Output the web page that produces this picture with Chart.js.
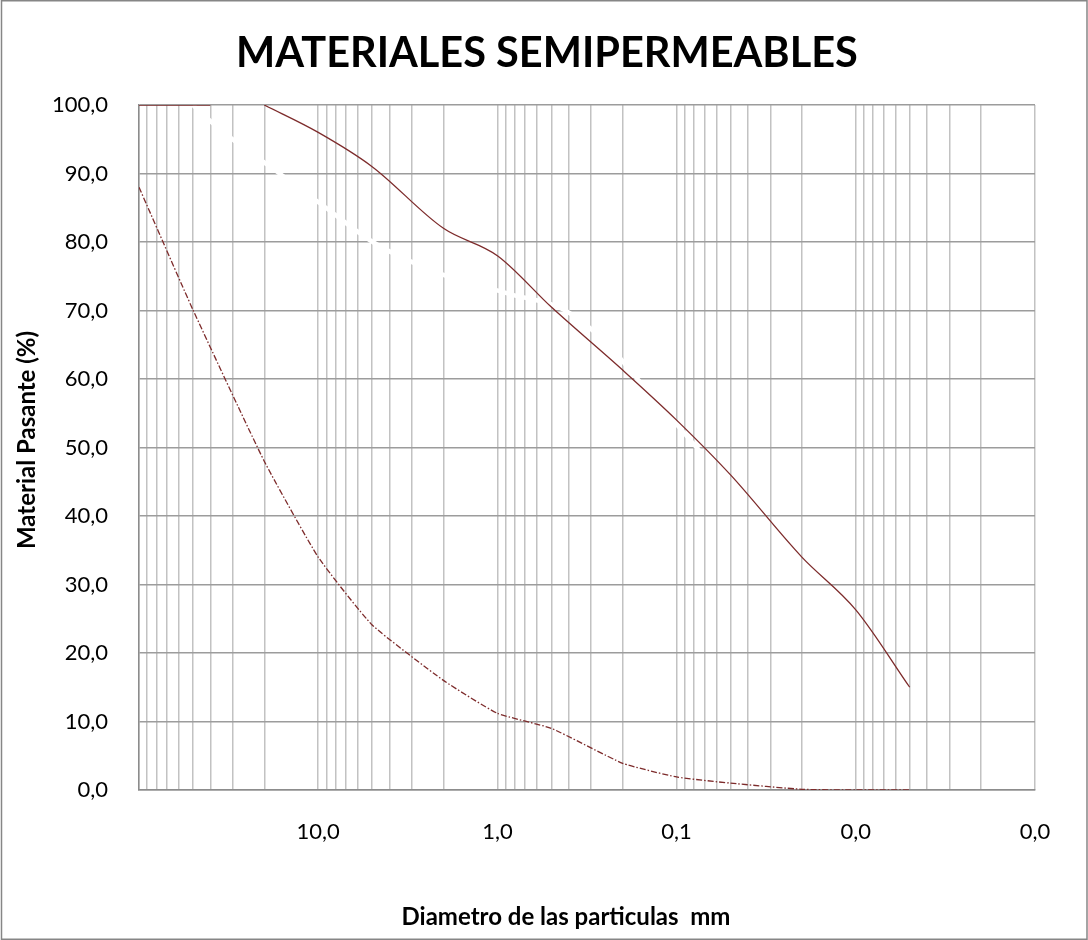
<!DOCTYPE html>
<html>
<head>
<meta charset="utf-8">
<script src="https://cdn.jsdelivr.net/npm/chart.js@4.4.1/dist/chart.umd.min.js"></script>
<style>
  html, body { margin: 0; padding: 0; background: #ffffff; }
  canvas { display: block; }
</style>
</head>
<body>
<canvas id="c" width="1088" height="940"></canvas>
<script>
// ---- data (particle size in mm, % passing) ----
const upperSizes   = [100, 40, 25, 20, 10, 5, 2, 1, 0.5, 0.2, 0.1, 0.05, 0.02, 0.01, 0.005];
const upperPassing = [100, 100, null, 100, 96, 91, 82, 78, 70.5, 61.3, 54, 46, 34, 26.3, 15];

const lowerSizes   = [100, 50, 20, 10, 5, 2, 1, 0.5, 0.2, 0.1, 0.05, 0.02, 0.01, 0.005];
const lowerPassing = [88, 70.1, 48, 34, 24.1, 16, 11.2, 9, 3.9, 1.9, 1.0, 0.1, 0, 0];

const sampleSizes   = [50, 37.5, 25, 19, 12.5, 9.5, 4.75, 2, 0.85, 0.425, 0.25, 0.15, 0.075];
const samplePassing = [100, 97, 93.4, 91.2, 87.7, 85.4, 79.7, 75.2, 72.4, 70.1, 65.4, 58.7, 49.6];

const xTickValues = [10, 1, 0.1, 0.01, 0.001];
const xTickLabels = ['10,0', '1,0', '0,1', '0,0', '0,0'];
const yTickValues = [0, 10, 20, 30, 40, 50, 60, 70, 80, 90, 100];
const yTickLabels = ['0,0', '10,0', '20,0', '30,0', '40,0', '50,0', '60,0', '70,0', '80,0', '90,0', '100,0'];

const chartTitle = 'MATERIALES SEMIPERMEABLES';
const xTitle = 'Diametro de las particulas  mm';
const yTitle = 'Material Pasante (%)';

// log grid lines: 1..9 x 10^k between 0.001 and 100
const xGridValues = [];
for (let e = -3; e <= 1; e++) {
  for (let m = 1; m <= 9; m++) xGridValues.push(+(m * Math.pow(10, e)).toPrecision(6));
}
xGridValues.push(100);

function pairs(xs, ys) { return xs.map((x, i) => ({ x: x, y: ys[i] })); }
function xLabel(v) {
  const i = xTickValues.findIndex(t => Math.abs(v - t) / t < 1e-6);
  return i >= 0 ? xTickLabels[i] : '';
}
function yLabel(v) {
  const i = yTickValues.indexOf(v);
  return i >= 0 ? yTickLabels[i] : '';
}

const frame = {
  id: 'frame',
  beforeDraw(chart) {
    const ctx = chart.ctx;
    ctx.save();
    ctx.fillStyle = '#ffffff';
    ctx.fillRect(0, 0, chart.width, chart.height);
    ctx.restore();
  },
  afterDraw(chart) {
    const ctx = chart.ctx;
    ctx.save();
    ctx.strokeStyle = '#868686';
    ctx.lineWidth = 1.5;
    ctx.strokeRect(1.5, 0.75, 1085.5, 938.5);
    // titles
    ctx.fillStyle = '#000000';
    ctx.textAlign = 'center';
    ctx.textBaseline = 'alphabetic';
    ctx.font = 'bold 41.5px Lato';
    ctx.fillText(chartTitle, 547, 67);
    ctx.font = 'bold 24px Lato';
    ctx.fillText(xTitle, 566, 925);
    ctx.translate(35, 440);
    ctx.rotate(-Math.PI / 2);
    ctx.fillText(yTitle, 0, 0);
    ctx.restore();
  }
};

const RED = '#7d2b2b';
const TICK_FONT = { family: 'Lato', size: 22 };

function draw() {
  new Chart(document.getElementById('c'), {
    type: 'scatter',
    data: {
      datasets: [
        {
          label: 'Límite superior',
          data: pairs(upperSizes, upperPassing),
          showLine: true, spanGaps: false,
          borderColor: RED, borderWidth: 1.3,
          pointRadius: 0, cubicInterpolationMode: 'monotone'
        },
        {
          label: 'Límite inferior',
          data: pairs(lowerSizes, lowerPassing),
          showLine: true,
          borderColor: RED, borderWidth: 1.3, borderDash: [6, 2, 1.5, 2],
          pointRadius: 0, tension: 0.15
        },
        {
          label: 'Muestra',
          data: pairs(sampleSizes, samplePassing),
          showLine: true,
          borderColor: '#ffffff', borderWidth: 4.5,
          pointRadius: 0, cubicInterpolationMode: 'monotone'
        }
      ]
    },
    options: {
      responsive: false,
      animation: false,
      layout: { padding: { left: 0, right: 53, top: 105, bottom: 0 } },
      plugins: {
        legend: { display: false },
        tooltip: { enabled: false },
        title: { display: false }
      },
      scales: {
        x: {
          type: 'logarithmic',
          reverse: true,
          min: 0.001,
          max: 100,
          afterBuildTicks: s => { s.ticks = xGridValues.map(v => ({ value: v })); },
          afterFit: s => { s.height = 150; },
          ticks: {
            autoSkip: false, maxRotation: 0, minRotation: 0,
            padding: 29,
            color: '#000000',
            font: TICK_FONT,
            callback: v => xLabel(v)
          },
          grid: { color: '#c2c2c2', lineWidth: 1.5, drawTicks: false },
          border: { color: '#8c8c8c', width: 1.5 },
          title: { display: false }
        },
        y: {
          type: 'linear',
          min: 0,
          max: 100,
          afterBuildTicks: s => { s.ticks = yTickValues.map(v => ({ value: v })); },
          afterFit: s => { s.width = 139; },
          ticks: {
            padding: 31,
            color: '#000000',
            font: TICK_FONT,
            callback: v => yLabel(v)
          },
          grid: { color: '#9c9c9c', lineWidth: 1.5, drawTicks: false },
          border: { color: '#8c8c8c', width: 1.5 },
          title: { display: false }
        }
      }
    },
    plugins: [frame]
  });
}

const fontLoads = [
  'bold 41px Lato', 'bold 24px Lato', '22px Lato'
].map(f => (document.fonts && document.fonts.load) ? document.fonts.load(f) : Promise.resolve());
Promise.all(fontLoads).then(draw, draw);
</script>
</body>
</html>
